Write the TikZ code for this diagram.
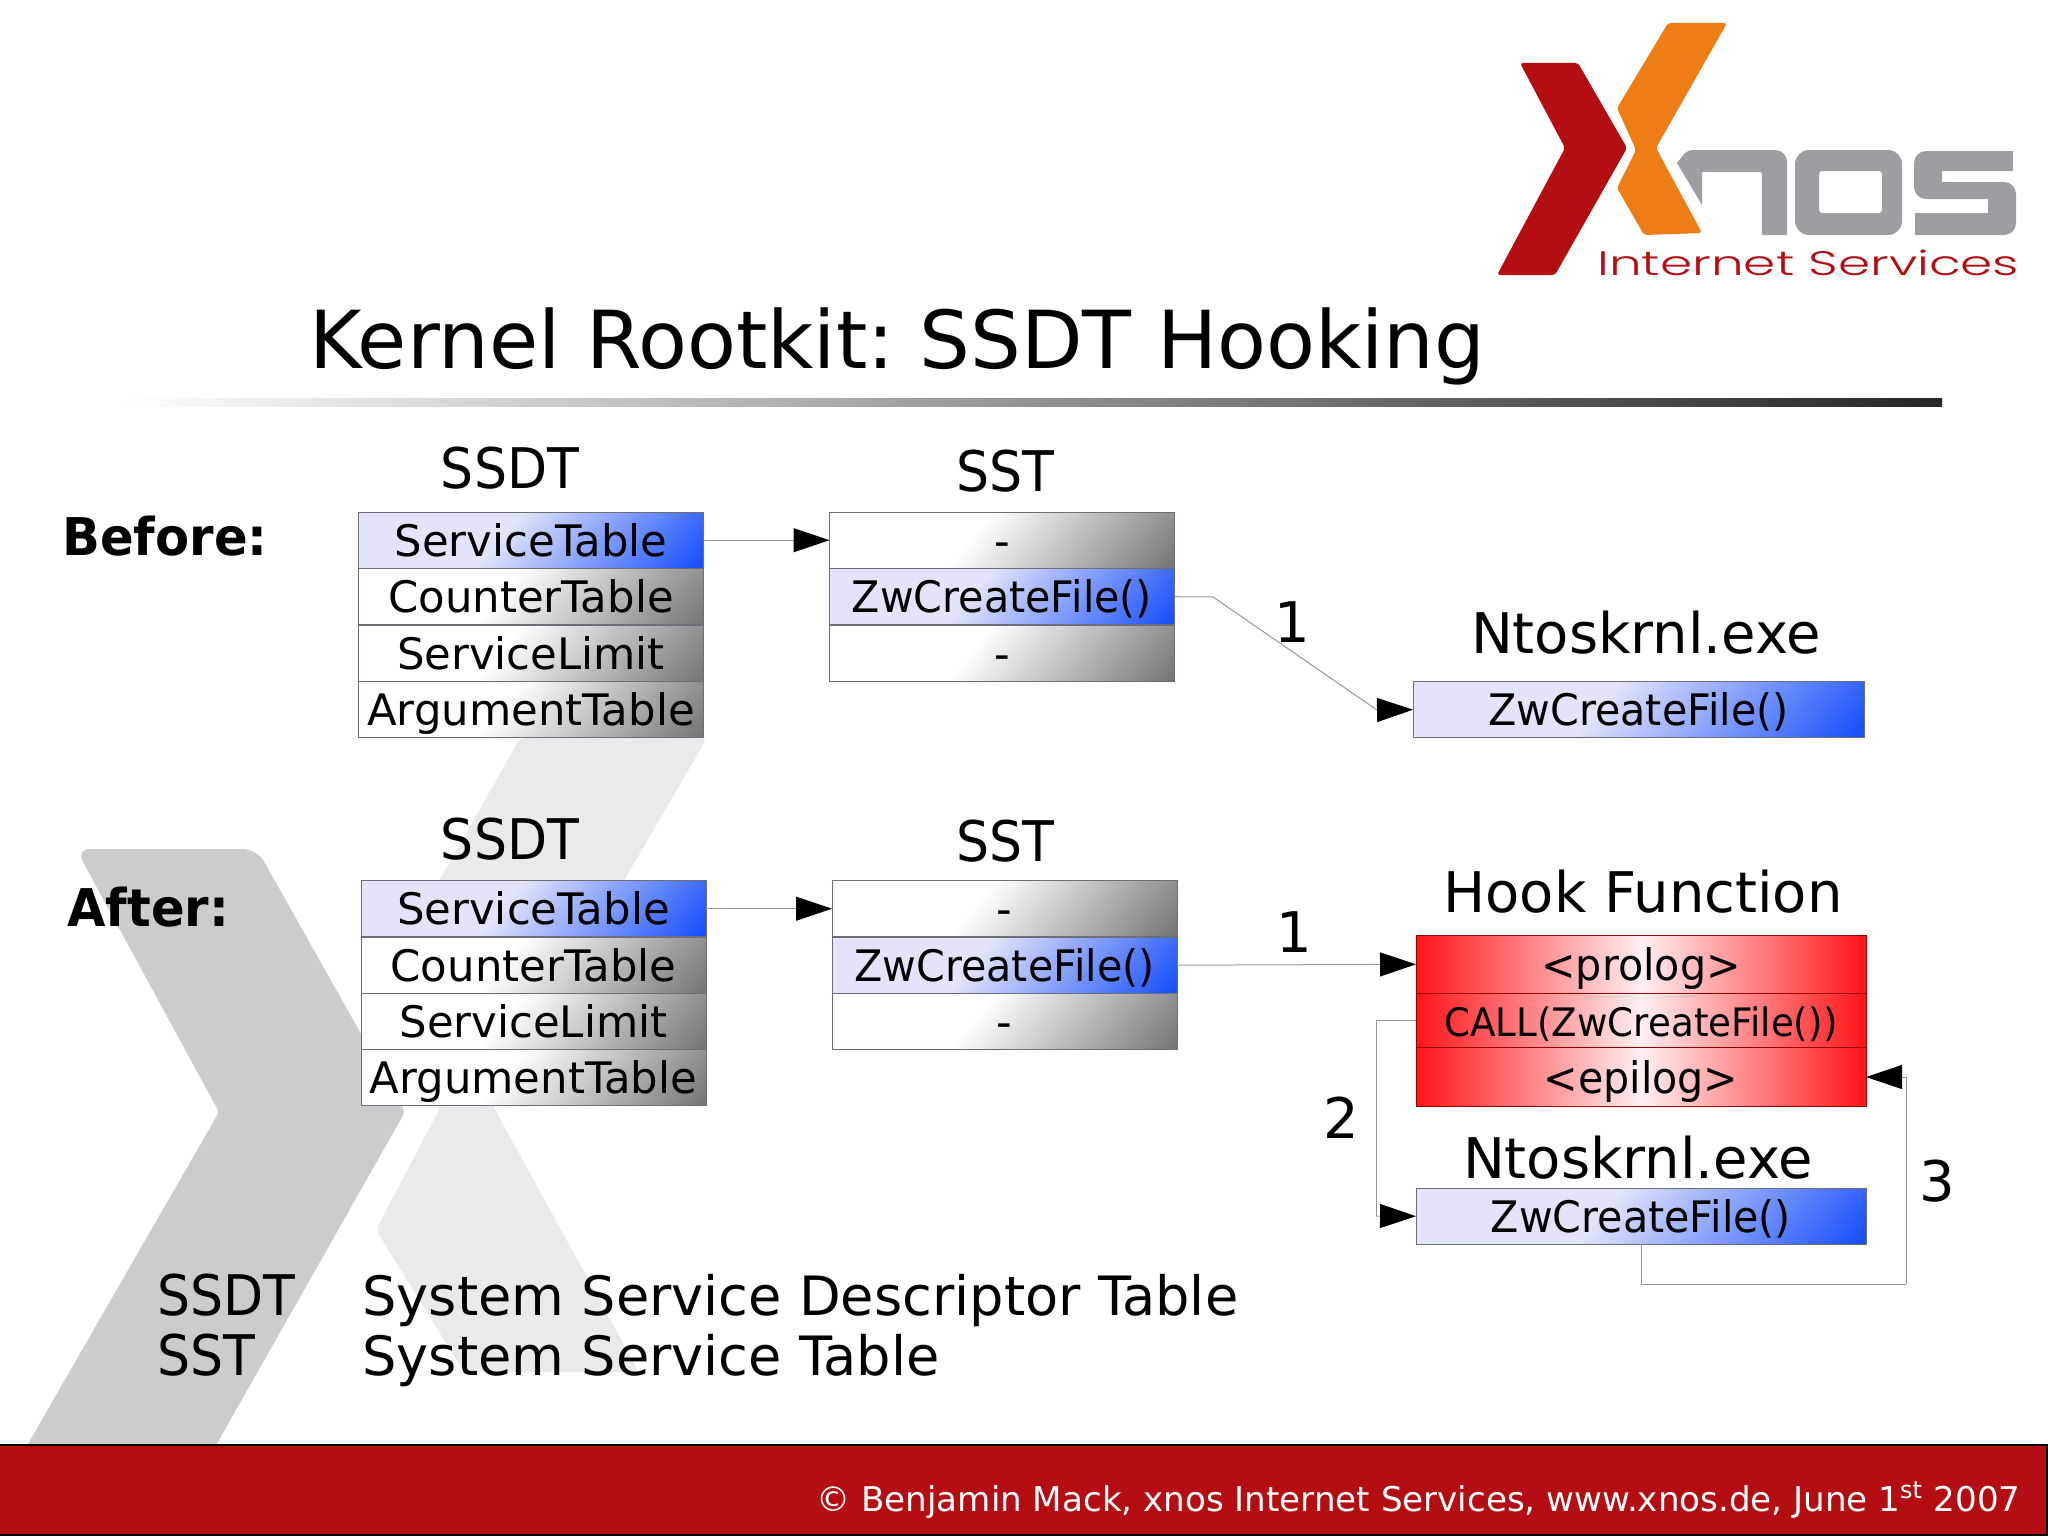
\documentclass[tikz,border=0pt]{standalone}
\usepackage{fontspec}
\setmainfont{DejaVu Sans}
\newfontfamily\logofont[UprightFont=* Light,FakeStretch=1.52]{Poppins}
\newfontfamily\capsfont[FakeStretch=0.93]{DejaVu Sans}
\newfontfamily\sidefont[FakeStretch=0.955]{DejaVu Sans}
\newfontfamily\narrowfont[FakeStretch=0.95]{DejaVu Sans}
\usetikzlibrary{arrows.meta}
\definecolor{xred}{RGB}{181,14,18}
\definecolor{xorange}{RGB}{238,125,22}
\definecolor{xgrey}{RGB}{157,158,162}
\definecolor{bgdark}{RGB}{204,204,206}
\definecolor{bglight}{RGB}{233,234,236}
\definecolor{boxline}{RGB}{110,110,120}
\definecolor{arrline}{RGB}{150,150,150}
\definecolor{blueA}{RGB}{226,228,250}
\definecolor{blueB}{RGB}{25,80,250}
\definecolor{greyB}{RGB}{100,100,100}
\definecolor{redA}{RGB}{255,20,24}
\definecolor{redB}{RGB}{255,240,240}
\pgfdeclarehorizontalshading{rowblue}{100bp}{color(0bp)=(blueA); color(44bp)=(blueA); color(84bp)=(blueB); color(100bp)=(blueB)}
\pgfdeclarehorizontalshading{rowgrey}{100bp}{color(0bp)=(white); color(44bp)=(white); color(90bp)=(greyB); color(100bp)=(greyB)}
\pgfdeclarehorizontalshading{rowred}{100bp}{color(0bp)=(redA); color(25bp)=(redA); color(50bp)=(redB); color(75bp)=(redA); color(100bp)=(redA)}
\tikzset{
  row/.style={anchor=north west, draw=boxline, line width=0.5pt, minimum width=172.5pt, minimum height=28.2pt,
    inner sep=0pt, outer sep=0pt, text height=20pt, text depth=4pt, font=\fontsize{21.7}{24}\selectfont},
  bluerow/.style={row, shading=rowblue, shading angle=-40},
  greyrow/.style={row, shading=rowgrey, shading angle=-40},
  redrow/.style={row, draw=red!60!black, minimum width=225pt, shading=rowred, font=\narrowfont\fontsize{21.7}{24}\selectfont},
  fnrow/.style={bluerow, font=\narrowfont\fontsize{21.7}{24}\selectfont},
  head/.style={anchor=base, inner sep=0pt, font=\fontsize{28}{32}\selectfont},
  capshead/.style={anchor=base, inner sep=0pt, font=\capsfont\fontsize{28}{32}\selectfont},
  legend/.style={anchor=base west, inner sep=0pt, font=\fontsize{27.1}{32}\selectfont},
  capslegend/.style={anchor=base west, inner sep=0pt, font=\capsfont\fontsize{28}{32}\selectfont},
  side/.style={anchor=base west, inner sep=0pt, font=\sidefont\fontsize{26}{30}\selectfont\bfseries},
  link/.style={draw=arrline, line width=0.5pt, -{Triangle[length=18pt,width=12pt,black]}},
  plain/.style={draw=arrline, line width=0.5pt}
}
\begin{document}
\frenchspacing
\begin{tikzpicture}[x=0.5pt,y=-0.5pt]
\useasboundingbox (0,0) rectangle (2048,1536);
% watermark
\fill[bglight, rounded corners=3pt] (520,738) -- (707,738) -- (493,1106) -- (639,1372) -- (464,1372) -- (376,1230) -- (440,1108) -- (382,982) -- cycle;
\fill[bgdark] (13,1470) [rounded corners=1pt] -- (219,1112) [rounded corners=7pt] -- (76,849) -- (257,849) [rounded corners=2pt] -- (405,1112) [sharp corners] -- (202,1470) -- cycle;
% logo
\fill[xred, rounded corners=1.5pt] (1520,63) -- (1578,63) -- (1627,148) -- (1555,275) -- (1497,275) -- (1565,148) -- cycle;
\fill[xorange, rounded corners=1.5pt] (1668,23) -- (1727,23) -- (1656,148) -- (1702,233) -- (1644,235) -- (1617,188) -- (1636,150) -- (1617,108) -- cycle;
\fill[xgrey] (1702,205) -- (1677,163) [rounded corners=3pt] -- (1687,150) [rounded corners=6pt] -- (1787,150) [sharp corners] -- (1787,235) -- (1762,235) [rounded corners=1pt] -- (1762,172) [sharp corners] -- (1702,172) -- cycle;
\fill[xgrey, even odd rule] [rounded corners=7pt] (1795,150) rectangle (1902,235) [rounded corners=1.5pt] (1819,171) rectangle (1882,213);
\fill[xgrey] (2013,151) [rounded corners=6pt] -- (1914,151) -- (1914,199) [sharp corners] -- (1988,199) -- (1988,213) -- (1915,213) -- (1915,235) [rounded corners=6pt] -- (2016,235) -- (2016,182) [sharp corners] -- (1942,182) -- (1942,171) -- (2013,171) -- cycle;
\node[anchor=base west, inner sep=0pt, text=xred, font=\logofont\fontsize{17}{20}\selectfont] (brand) at (1597,275) {Internet Services};
% title
\node[anchor=base west, inner sep=0pt, font=\fontsize{40}{46}\selectfont] (title) at (309,368) {Kernel Rootkit: SSDT Hooking};
\shade[left color=white, right color=black!85] (120,398) rectangle (1942,406);
% before
\node[side] (before) at (62,555) {Before:};
\node[capshead] (bsdtname) at (510,488) {SSDT};
\node[bluerow] (bsdt1) at (358.5,512) {ServiceTable};
\node[greyrow] (bsdt2) at (358.5,568.5) {CounterTable};
\node[greyrow] (bsdt3) at (358.5,625) {ServiceLimit};
\node[greyrow] (bsdt4) at (358.5,681.5) {ArgumentTable};
\node[capshead] (bsstname) at (1005,491) {SST};
\node[greyrow] (bsst1) at (829.5,512) {-};
\node[fnrow] (bsst2) at (829.5,568.5) {ZwCreateFile()};
\node[greyrow] (bsst3) at (829.5,625) {-};
\node[head] (bntname) at (1646,653) {Ntoskrnl.exe};
\node[fnrow, minimum width=225.5pt] (bnt) at (1413,681.5) {ZwCreateFile()};
\node[head] (bone) at (1292,642) {1};
\coordinate (bturn) at (1213,597);
\coordinate (btail) at (1377,710);
\draw[link] (bsdt1.east) -- (bsst1.west);
\draw[plain] (bsst2.east) -- (bturn) -- (btail);
\draw[link] (btail) -- (bnt.west);
% after
\node[side] (after) at (67,926) {After:};
\node[capshead] (asdtname) at (510,859) {SSDT};
\node[bluerow] (asdt1) at (361,880.5) {ServiceTable};
\node[greyrow] (asdt2) at (361,937) {CounterTable};
\node[greyrow] (asdt3) at (361,993) {ServiceLimit};
\node[greyrow] (asdt4) at (361,1049.5) {ArgumentTable};
\node[capshead] (asstname) at (1005,861) {SST};
\node[greyrow] (asst1) at (832,880.5) {-};
\node[fnrow] (asst2) at (832,937) {ZwCreateFile()};
\node[greyrow] (asst3) at (832,993) {-};
\node[head] (hookname) at (1643,912) {Hook Function};
\node[redrow, minimum height=29.3pt] (hook1) at (1416,935) {<prolog>};
\node[redrow, minimum height=27pt, font=\narrowfont\fontsize{19.6}{24}\selectfont] (hook2) at (1416,993.5) {CALL(ZwCreateFile())};
\node[redrow, minimum height=29.5pt] (hook3) at (1416,1047.5) {<epilog>};
\node[head] (antname) at (1638,1178) {Ntoskrnl.exe};
\node[fnrow, minimum width=225pt] (ant) at (1416,1188) {ZwCreateFile()};
\node[head] (aone) at (1294,952) {1};
\node[head] (atwo) at (1341,1138) {2};
\node[head] (athree) at (1937,1201) {3};
\coordinate (turnl) at (1376,1216);
\coordinate (turnr) at (1906,1284);
\draw[link] (asdt1.east) -- (asst1.west);
\draw[link] (asst2.east) -- (hook1.west);
\draw[plain] (hook2.west) -| (turnl);
\draw[link] (turnl) -- (ant.west);
\draw[plain] (ant.south) |- (turnr);
\draw[link] (turnr) |- (hook3.east);
% legend
\node[capslegend] (keyssdt) at (157,1315) {SSDT};
\node[capslegend] (keysst) at (157,1375) {SST};
\node[legend] (textssdt) at (362,1315) {System Service Descriptor Table};
\node[legend] (textsst) at (362,1375) {System Service Table};
% footer
\fill[xred, draw=black, line width=1pt] (-2,1445) rectangle (2047,1535);
\node[anchor=base east, inner sep=0pt, text=white, font=\fontsize{17.05}{20}\selectfont] (foot) at (2021,1511) {© Benjamin Mack, xnos Internet Services, www.xnos.de, June 1\textsuperscript{st} 2007};
\end{tikzpicture}
\end{document}
